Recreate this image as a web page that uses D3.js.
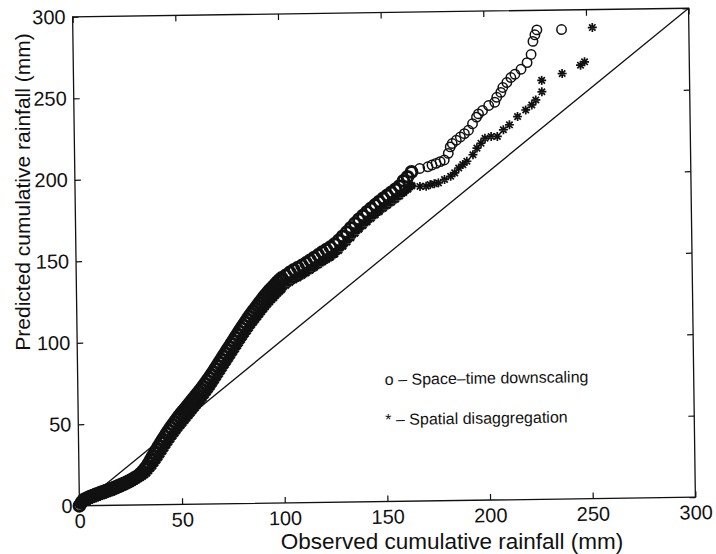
<!DOCTYPE html>
<html>
<head>
<meta charset="utf-8">
<script src="https://cdn.jsdelivr.net/npm/d3@7"></script>
<style>
  body { margin: 0; background: #fff; }
  text { font-family: "Liberation Sans", Arial, Helvetica, sans-serif; fill: #111; }
</style>
</head>
<body>
<div id="chart"></div>
<script>
// tick values of both axes (mm)
const xTicks = [0, 50, 100, 150, 200, 250, 300];
const yTicks = [0, 50, 100, 150, 200, 250, 300];
const diagonal = [0, 300];

// observed quantiles of the dense part, shared by both series
const bandObs = [
  0, 1, 2, 3, 4, 5, 6, 7, 8, 9, 10, 11, 12, 13, 14, 15, 16, 17, 18, 19, 20,
  21, 22, 23, 24, 25, 26, 27, 28, 29, 30, 31, 32, 33, 34, 35, 36, 37, 38, 39, 40,
  41, 42, 43, 44, 45, 46, 47, 48, 49, 50, 51, 52, 53, 54, 55, 56, 57, 58, 59, 60,
  61, 62, 63, 64, 65, 66, 67, 68, 69, 70, 71, 72, 73, 74, 75, 76, 77, 78, 79, 80,
  81, 82, 83, 84, 85, 86, 87, 88, 89, 90, 91, 92, 93, 94, 95, 96, 97, 98, 99, 100,
  102, 104, 106, 108, 110, 112, 114, 116, 118, 120, 122, 124, 126, 128, 130,
  132, 134, 136, 138, 140, 142, 144, 146, 148, 150, 152, 154, 156, 158, 160, 162, 164
];

// space-time downscaling (o), predicted values for bandObs
const spaceTimeBand = [
  0, 2, 3.5, 4.2, 4.8, 5.3, 5.8, 6.3, 6.8, 7.2, 7.7, 8.1, 8.5, 9.0, 9.4, 9.9, 10.3, 10.8, 11.3, 11.8, 12.3,
  12.9, 13.4, 14.0, 14.6, 15.2, 15.9, 16.6, 17.3, 18.1, 19.2,
  20.4, 21.9, 23.5, 25.5, 27.6, 29.7, 31.8, 33.9, 35.9, 38.0, 39.9, 41.8, 43.7, 45.5, 47.3,
  49.0, 50.7, 52.4, 54.0, 55.5, 57.0, 58.5, 60.0, 61.5, 63.0, 64.5, 66.0, 67.5, 69.0, 70.5,
  72.2, 73.9, 75.6, 77.3, 79.0, 80.9, 82.8, 84.7, 86.6, 88.5, 90.4, 92.3, 94.2, 96.1, 98.0,
  99.9, 101.8, 103.7, 105.6, 107.5, 109.3, 111.1, 112.9, 114.7, 116.5, 118.1, 119.7, 121.3,
  122.9, 124.5, 126.1, 127.6, 129.1, 130.5, 131.8, 133.0, 134.4, 135.7, 136.9, 138.0,
  139.5, 141.3, 142.9, 144.2, 145.5, 147.0, 148.6, 150.2, 151.8, 153.5, 155.0, 156.5, 158.3,
  160.5, 163.0, 165.5, 168.2, 170.8, 173.3, 175.6, 177.8, 180.0, 182.0, 184.0, 186.0, 187.8,
  189.6, 191.4, 193.4, 196.5, 199.0, 202.0
];

// spatial disaggregation (*), predicted values for bandObs
const spatialBand = [
  0.5, 1, 1.5, 2.2, 2.8, 3.3, 3.8, 4.3, 4.8, 5.2, 5.7, 6.1, 6.5, 7.0, 7.4, 7.9, 8.3, 8.8, 9.3, 9.8, 10.3,
  10.9, 11.4, 12.0, 12.6, 13.2, 13.9, 14.6, 15.3, 16.1, 16.8,
  17.6, 18.5, 19.5, 20.9, 22.4, 23.9, 25.6, 27.3, 29.1, 31.0, 32.9, 34.8, 36.7, 38.5, 40.3,
  42.0, 43.7, 45.4, 47.0, 48.5, 50.0, 51.5, 53.0, 54.5, 56.0, 57.5, 59.0, 60.5, 62.0, 63.5,
  65.2, 66.9, 68.6, 70.3, 72.0, 73.9, 75.8, 77.7, 79.6, 81.5, 83.4, 85.3, 87.2, 89.1, 91.0,
  92.9, 94.8, 96.7, 98.6, 100.5, 102.3, 104.1, 105.9, 107.7, 109.5, 111.1, 112.7, 114.3,
  115.9, 117.5, 119.1, 120.6, 122.1, 123.5, 124.8, 126.0, 127.4, 128.7, 129.9, 131.0,
  133.5, 135.3, 136.9, 138.1, 139.5, 141.0, 142.6, 144.2, 145.8, 147.5, 149.0, 150.5, 152.3,
  154.5, 157.0, 159.5, 162.2, 164.8, 167.3, 169.6, 171.8, 174.0, 176.0, 178.0, 180.0, 181.8,
  183.6, 185.4, 187.4, 189.4, 191.4, 193.5
];

// upper tails, where the two series separate
const spaceTimeTailObs = [168, 172, 174, 176, 178, 180, 182, 183, 184, 186, 188, 190, 192, 194, 196, 197,
  199, 202, 205, 206, 208, 209, 211, 213, 215, 218, 221, 223, 224, 225, 226, 238];
const spaceTimeTailPred = [204, 205, 206, 207, 208, 209, 213, 217, 219, 221, 223, 225, 227, 231, 235, 237,
  239, 242, 244, 247, 250, 253, 256, 259, 261, 264, 268, 273, 281, 285, 288, 288];
const spatialTailObs = [168, 171, 173, 175, 177, 180, 183, 185, 187, 189, 191, 194, 196, 198, 200, 203,
  206, 209, 212, 216, 220, 223, 225, 228, 228, 238, 247, 249, 253];
const spatialTailPred = [193, 193, 194, 194.5, 195, 197, 199, 201, 204, 206, 208, 212, 216, 219, 222, 223,
  223, 227, 230, 235, 239, 242, 245, 250, 257, 261, 266, 268, 289];

const spaceTimeDense = bandObs.map((o, i) => [o, spaceTimeBand[i]]);
const spatialDense = bandObs.map((o, i) => [o, spatialBand[i]]);
const spaceTimeTail = spaceTimeTailObs.map((o, i) => [o, spaceTimeTailPred[i]]);
const spatialTail = spatialTailObs.map((o, i) => [o, spatialTailPred[i]]);

const width = 716, height = 554;

const svg = d3.select("#chart").append("svg")
  .attr("width", width)
  .attr("height", height);

const x = d3.scaleLinear().domain([0, 300]).range([76, 692]);
const y = d3.scaleLinear().domain([0, 300]).range([501.5, 12.5]);

// the scanned figure is tilted a little
const g = svg.append("g").attr("transform", "rotate(-0.8, 384, 257)");

// bottom axis with inward ticks
const bottom = g.append("g")
  .attr("transform", `translate(0,${y(0)})`)
  .call(d3.axisBottom(x).tickValues(xTicks).tickSizeInner(-6).tickSizeOuter(0).tickPadding(8));
bottom.selectAll("text").style("font-size", "20px");

const left = g.append("g")
  .attr("transform", `translate(${x(0)},0)`)
  .call(d3.axisLeft(y).tickValues(yTicks).tickSizeInner(-6).tickSizeOuter(0).tickPadding(7));
left.selectAll("text").style("font-size", "20px");

g.append("g")
  .attr("transform", `translate(0,${y(300)})`)
  .call(d3.axisTop(x).tickValues(xTicks).tickSizeInner(-6).tickSizeOuter(0).tickFormat(""));
g.append("g")
  .attr("transform", `translate(${x(300)},0)`)
  .call(d3.axisRight(y).tickValues(yTicks).tickSizeInner(-6).tickSizeOuter(0).tickFormat(""));

g.selectAll(".domain").remove();
g.selectAll(".tick line").attr("stroke", "#111").attr("stroke-width", 1.2);

// frame
g.append("rect")
  .attr("x", x(0)).attr("y", y(300))
  .attr("width", x(300) - x(0)).attr("height", y(0) - y(300))
  .attr("fill", "none").attr("stroke", "#111").attr("stroke-width", 1.3);

// 1:1 line
g.append("path")
  .datum(diagonal)
  .attr("d", d3.line().x(d => x(d)).y(d => y(d)))
  .attr("stroke", "#111").attr("stroke-width", 1.3).attr("fill", "none");

const star = "M-4.5,0H4.5M0,-4.5V4.5M-3.2,-3.2L3.2,3.2M-3.2,3.2L3.2,-3.2";

// dense part: thousands of overlapping markers print as a solid ribbon
g.append("g")
  .selectAll("path")
  .data(spatialDense)
  .join("path")
  .attr("d", star)
  .attr("transform", d => `translate(${x(d[0])},${y(d[1])})`)
  .attr("stroke", "#111")
  .attr("stroke-width", 2.6)
  .attr("fill", "none");

g.append("g")
  .selectAll("circle")
  .data(spaceTimeDense)
  .join("circle")
  .attr("cx", d => x(d[0]))
  .attr("cy", d => y(d[1]))
  .attr("r", 5.4)
  .attr("fill", "none")
  .attr("stroke", "#111")
  .attr("stroke-width", 3);

// upper tails: space-time downscaling as open circles
g.append("g")
  .selectAll("circle")
  .data(spaceTimeTail)
  .join("circle")
  .attr("cx", d => x(d[0]))
  .attr("cy", d => y(d[1]))
  .attr("r", 4.7)
  .attr("fill", "none")
  .attr("stroke", "#111")
  .attr("stroke-width", 1.5);

// spatial disaggregation as asterisks
g.append("g")
  .selectAll("path")
  .data(spatialTail)
  .join("path")
  .attr("d", star)
  .attr("transform", d => `translate(${x(d[0])},${y(d[1])})`)
  .attr("stroke", "#111")
  .attr("stroke-width", 1.7)
  .attr("fill", "none");

// legend (plain text, as in the figure)
g.append("text")
  .attr("x", 383).attr("y", 385)
  .style("font-size", "16px")
  .text("o \u2013 Space\u2013time downscaling");
g.append("text")
  .attr("x", 383).attr("y", 425)
  .style("font-size", "16px")
  .text("* \u2013 Spatial disaggregation");

// axis titles
svg.append("text")
  .attr("x", 452).attr("y", 549)
  .attr("text-anchor", "middle")
  .style("font-size", "22.5px")
  .text("Observed cumulative rainfall (mm)");

svg.append("text")
  .attr("transform", "translate(30,192) rotate(-90)")
  .attr("text-anchor", "middle")
  .style("font-size", "21px")
  .text("Predicted cumulative rainfall (mm)");
</script>
</body>
</html>
